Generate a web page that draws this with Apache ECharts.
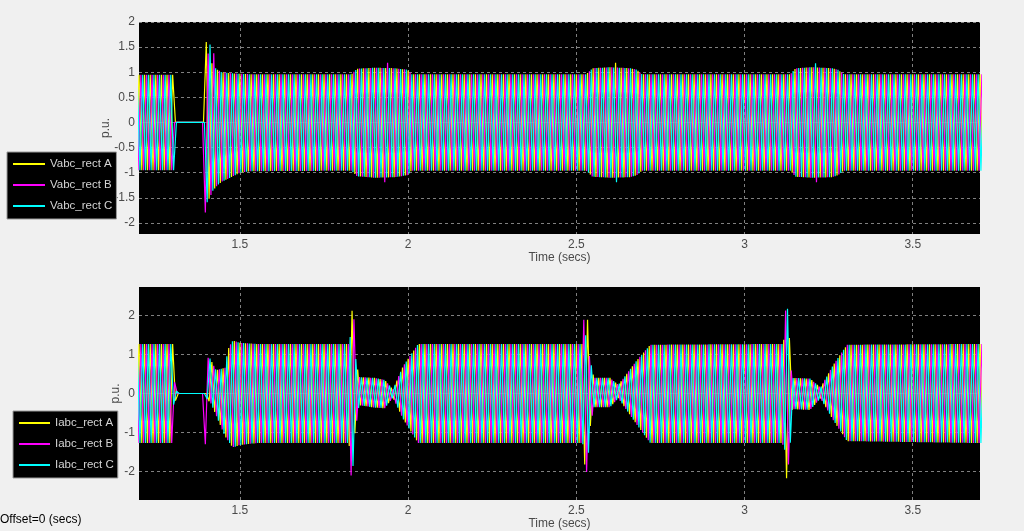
<!DOCTYPE html>
<html><head><meta charset="utf-8">
<script src="https://cdn.jsdelivr.net/npm/echarts@6/dist/echarts.min.js"></script>
<style>html,body{margin:0;padding:0;background:#f0f0f0;overflow:hidden}#c{width:1024px;height:531px}</style>
</head><body><div id="c"></div>
<script>
// ---- axis / labels ----
const timeRange = [1.2, 3.7];
const xTicks = [1.5, 2, 2.5, 3, 3.5];
const vRange = [-2.22, 2];
const vTicks = [-2, -1.5, -1, -0.5, 0, 0.5, 1, 1.5, 2];
const iRange = [-2.73, 2.73];
const iTicks = [-2, -1, 0, 1, 2];
const freqHz = 60;
const vNames = ['Vabc_rect A', 'Vabc_rect B', 'Vabc_rect C'];
const iNames = ['Iabc_rect A', 'Iabc_rect B', 'Iabc_rect C'];
const phaseColors = ['#ffff00', '#ff00ff', '#00ffff'];

// ---- voltage peak envelope ----
const vEnvT  = [1.20, 1.303, 1.304, 1.400, 1.401, 1.410, 1.420, 1.433, 1.446, 1.471, 1.500, 1.530, 1.832, 1.848, 1.900, 1.960, 1.998, 2.010, 2.530, 2.548, 2.600, 2.660, 2.680, 2.695, 3.136, 3.152, 3.200, 3.260, 3.278, 3.295, 3.700];
const vEnvUp = [0.95, 0.95, 0.00, 0.00, 1.45, 1.30, 1.12, 1.05, 1.00, 0.98, 0.97, 0.96, 0.96, 1.07, 1.09, 1.08, 1.05, 0.96, 0.96, 1.08, 1.10, 1.08, 1.05, 0.96, 0.96, 1.08, 1.10, 1.08, 1.05, 0.96, 0.96];
const vEnvLo = [-0.95, -0.95, 0.00, 0.00, -1.60, -1.50, -1.35, -1.25, -1.18, -1.10, -1.00, -0.97, -0.96, -1.07, -1.10, -1.09, -1.05, -0.96, -0.96, -1.08, -1.10, -1.09, -1.05, -0.96, -0.96, -1.08, -1.10, -1.09, -1.05, -0.96, -0.96];
const vSpikesA = [[1.402, 1.60], [2.625, 1.19]];
const vSpikesB = [[1.405, -1.79], [1.419, 1.38], [1.935, 1.19], [1.937, -1.19], [3.217, -1.19]];
const vSpikesC = [[1.406, -1.59], [1.404, 1.55], [2.627, -1.19], [3.215, 1.18]];

// ---- current peak envelope ----
const iEnvT  = [1.20, 1.300, 1.302, 1.308, 1.312, 1.400, 1.404, 1.411, 1.429, 1.456, 1.464, 1.476, 1.482, 1.500, 1.550, 1.823, 1.832, 1.842, 1.854, 1.900, 1.930, 1.955, 1.985, 2.030, 2.518, 2.528, 2.538, 2.552, 2.600, 2.625, 2.680, 2.720, 3.112, 3.122, 3.132, 3.142, 3.195, 3.226, 3.265, 3.305, 3.700];
const iEnvUp = [1.27, 1.27, 0.35, 0.25, 0.00, 0.00, 0.92, 0.90, 0.60, 0.66, 1.12, 1.33, 1.35, 1.30, 1.27, 1.27, 1.60, 1.00, 0.42, 0.40, 0.35, 0.10, 0.70, 1.27, 1.27, 1.50, 1.00, 0.40, 0.40, 0.22, 0.85, 1.25, 1.27, 1.50, 1.00, 0.40, 0.38, 0.15, 0.75, 1.25, 1.27];
const iEnvLo = [-1.27, -1.27, -0.30, -0.20, 0.00, 0.00, -0.20, -0.20, -0.55, -1.10, -1.20, -1.35, -1.38, -1.32, -1.27, -1.27, -1.60, -1.00, -0.30, -0.36, -0.38, -0.10, -0.65, -1.27, -1.27, -1.50, -1.00, -0.35, -0.35, -0.12, -0.80, -1.27, -1.27, -1.50, -1.00, -0.40, -0.42, -0.12, -0.70, -1.22, -1.27];
const iSpikesA = [[1.831, 2.12], [2.533, 1.89], [2.522, -1.82], [3.121, -2.17], [3.133, 1.42]];
const iSpikesB = [[1.830, -2.10], [1.834, 1.90], [1.405, -1.30], [2.527, 1.89], [2.529, -2.01], [3.119, 2.13], [3.126, -1.82]];
const iSpikesC = [[1.835, -1.86], [2.536, -1.52], [3.126, 2.17], [3.133, -1.26]];

function interp(ts, vs, t) {
  if (t <= ts[0]) return vs[0];
  for (let i = 1; i < ts.length; i++) {
    if (t <= ts[i]) {
      const f = (t - ts[i - 1]) / (ts[i] - ts[i - 1]);
      return vs[i - 1] + f * (vs[i] - vs[i - 1]);
    }
  }
  return vs[vs.length - 1];
}

// alternating positive / negative peaks of one phase, values taken from the envelope
function buildPhase(p, envT, envUp, envLo, spikes) {
  const half = 1 / (2 * freqHz);
  const shift = p / (3 * freqHz);
  const pts = [];
  for (let k = 0; ; k++) {
    const t = timeRange[0] - 2 * half + shift + k * half;
    if (t > timeRange[1] + 2 * half) break;
    pts.push([t, k % 2 === 0 ? interp(envT, envUp, t) : interp(envT, envLo, t)]);
  }
  spikes.forEach(([ts, v]) => {
    let best = -1, bd = Infinity;
    for (let i = 0; i < pts.length; i++) {
      const isUp = i % 2 === 0;
      if (isUp !== (v >= 0)) continue;
      const d = Math.abs(pts[i][0] - ts);
      if (d < bd) { bd = d; best = i; }
    }
    if (best >= 0) pts[best][1] = v;
  });
  return pts;
}

const vSpikes = [vSpikesA, vSpikesB, vSpikesC];
const iSpikes = [iSpikesA, iSpikesB, iSpikesC];

const axisFont = { fontFamily: 'Liberation Sans', fontSize: 12, color: '#4a4a4a' };
const splitStyle = { show: true, lineStyle: { color: '#808080', width: 1, type: [3, 3] } };

function xAx(gi) {
  return {
    type: 'value', gridIndex: gi, min: timeRange[0], max: timeRange[1],
    name: 'Time (secs)', nameLocation: 'middle', nameGap: 18, nameMoveOverlap: false,
    nameTextStyle: axisFont,
    axisLine: { show: true, lineStyle: { color: '#6a6a6a' } },
    axisTick: { show: false, customValues: xTicks },
    axisLabel: Object.assign({ margin: 5, customValues: xTicks }, axisFont),
    splitLine: splitStyle
  };
}
function yAx(gi, range, ticks, gap) {
  return {
    type: 'value', gridIndex: gi, min: range[0], max: range[1],
    name: 'p.u.', nameLocation: 'middle', nameGap: gap, nameRotate: 90, nameMoveOverlap: false,
    nameTextStyle: axisFont,
    axisLine: { show: false },
    axisTick: { show: false, customValues: ticks },
    axisLabel: Object.assign({ margin: 4, customValues: ticks }, axisFont),
    splitLine: splitStyle
  };
}

const series = [];
vNames.forEach((n, p) => series.push({
  name: n, type: 'line', xAxisIndex: 0, yAxisIndex: 0, symbol: 'none',
  lineStyle: { color: phaseColors[p], width: 1.2 }, itemStyle: { color: phaseColors[p] },
  data: buildPhase(p, vEnvT, vEnvUp, vEnvLo, vSpikes[p])
}));
iNames.forEach((n, p) => series.push({
  name: n, type: 'line', xAxisIndex: 1, yAxisIndex: 1, symbol: 'none',
  lineStyle: { color: phaseColors[p], width: 1.2 }, itemStyle: { color: phaseColors[p] },
  data: buildPhase(p, iEnvT, iEnvUp, iEnvLo, iSpikes[p])
}));

const legendText = { color: '#d4d4d4', fontFamily: 'Liberation Sans', fontSize: 11.5 };
const chart = echarts.init(document.getElementById('c'), null, { renderer: 'canvas' });
chart.setOption({
  backgroundColor: '#f0f0f0',
  animation: false,
  grid: [
    { left: 139, top: 22, width: 841, height: 212, show: true, backgroundColor: '#000', borderWidth: 0 },
    { left: 139, top: 287, width: 841, height: 214, show: true, backgroundColor: '#000', borderWidth: 0 }
  ],
  xAxis: [xAx(0), xAx(1)],
  yAxis: [yAx(0, vRange, vTicks, 27), yAx(1, iRange, iTicks, 17)],
  legend: [
    { data: vNames, orient: 'vertical', left: 7, top: 152, padding: [6, 4, 7, 6], itemGap: 9,
      itemWidth: 32, itemHeight: 2, icon: 'rect', backgroundColor: '#000', borderColor: '#9a9a9a', borderWidth: 1,
      borderRadius: 0, textStyle: legendText, selectedMode: false },
    { data: iNames, orient: 'vertical', left: 13, top: 411, padding: [6, 4, 7, 6], itemGap: 9,
      itemWidth: 31, itemHeight: 2, icon: 'rect', backgroundColor: '#000', borderColor: '#9a9a9a', borderWidth: 1,
      borderRadius: 0, textStyle: legendText, selectedMode: false }
  ],
  graphic: [
    { type: 'text', left: 0, top: 514, style: { text: 'Offset=0 (secs)', fill: '#000', font: '12px "Liberation Sans"' } }
  ],
  series: series
});
</script></body></html>
